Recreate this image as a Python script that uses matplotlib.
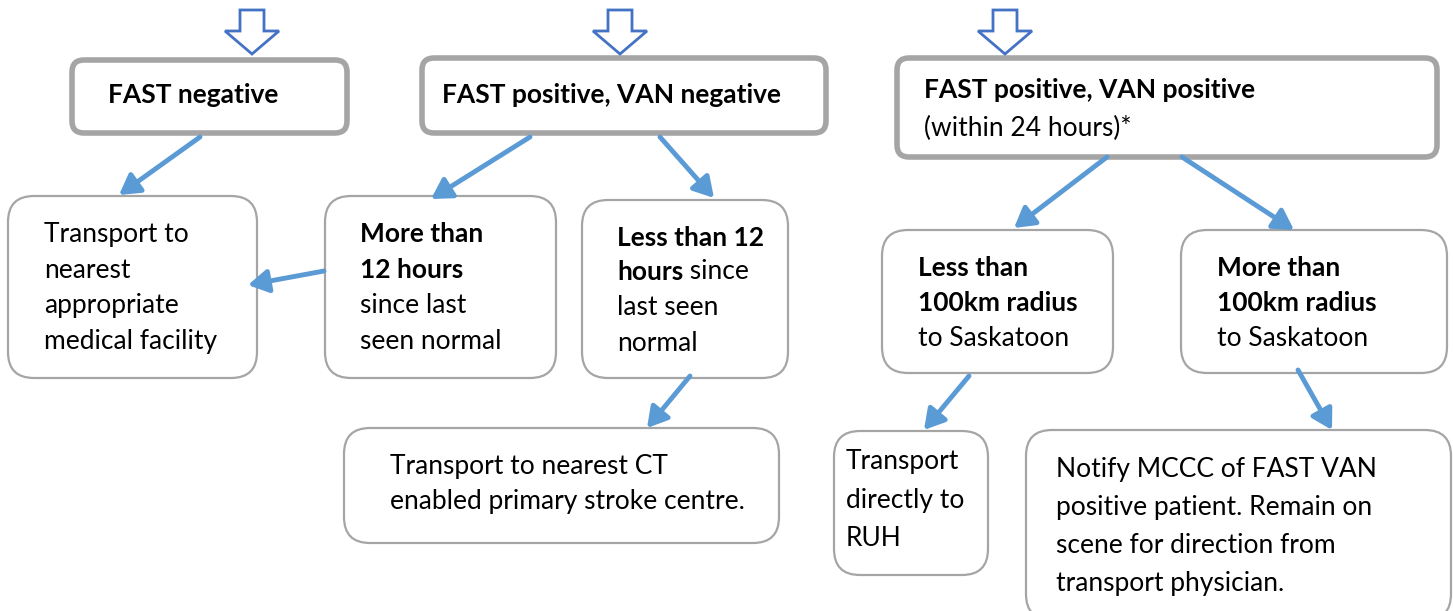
import matplotlib.pyplot as plt
from matplotlib.patches import FancyBboxPatch, Polygon

plt.rcParams['font.family'] = ['Lato', 'DejaVu Sans']

W, H = 1453, 611
BLUE = '#5B9BD5'
DARK_BLUE = '#4472C4'
GREY = '#A5A5A5'
FS = 19

# boxes: (x0, y0, x1, y1, thick)
boxes = [
    (72, 60, 347, 133, True),
    (422, 58, 826, 133, True),
    (897, 58, 1437, 157, True),
    (8, 196, 257, 378, False),
    (325, 196, 556, 378, False),
    (582, 200, 788, 378, False),
    (882, 230, 1113, 373, False),
    (1181, 230, 1447, 373, False),
    (344, 428, 779, 543, False),
    (834, 431, 988, 575, False),
    (1026, 430, 1451, 620, False),
]

# text pieces: (x, y_top_of_line, [(text, bold), ...])
text_lines = [
    (108, 83, [("FAST negative", True)]),
    (442, 83, [("FAST positive, VAN negative", True)]),
    (924, 78, [("FAST positive, VAN positive", True)]),
    (924, 116, [("(within 24 hours)*", False)]),
    (44, 222, [("Transport to", False)]),
    (44, 258, [("nearest", False)]),
    (44, 293, [("appropriate", False)]),
    (44, 329, [("medical facility", False)]),
    (360, 222, [("More than", True)]),
    (360, 258, [("12 hours", True)]),
    (360, 293, [("since last", False)]),
    (360, 329, [("seen normal", False)]),
    (617, 226, [("Less than 12", True)]),
    (617, 260, [("hours", True), (" since", False)]),
    (617, 295, [("last seen", False)]),
    (617, 331, [("normal", False)]),
    (918, 256, [("Less than", True)]),
    (918, 291, [("100km radius", True)]),
    (918, 326, [("to Saskatoon", False)]),
    (1217, 256, [("More than", True)]),
    (1217, 291, [("100km radius", True)]),
    (1217, 326, [("to Saskatoon", False)]),
    (390, 454, [("Transport to nearest CT", False)]),
    (390, 489, [("enabled primary stroke centre.", False)]),
    (846, 449, [("Transport", False)]),
    (846, 488, [("directly to", False)]),
    (846, 526, [("RUH", False)]),
    (1056, 457, [("Notify MCCC of FAST VAN", False)]),
    (1056, 495, [("positive patient. Remain on", False)]),
    (1056, 533, [("scene for direction from", False)]),
    (1056, 571, [("transport physician.", False)]),
]

# connector arrows: (x_start, y_start, x_end, y_end)
arrows = [
    (200, 137, 119, 195),
    (530, 137, 431, 199),
    (660, 137, 714, 198),
    (324, 271, 248, 285),
    (690, 376, 647, 428),
    (1107, 157, 1014, 228),
    (1182, 157, 1294, 230),
    (969, 376, 924, 430),
    (1298, 370, 1332, 430),
]

# hollow entry arrows at top: centre x
entry_x = [252, 620, 1005]

fig = plt.figure(figsize=(W / 100, H / 100), dpi=100)
ax = fig.add_axes([0, 0, 1, 1])
ax.set_xlim(0, W)
ax.set_ylim(H, 0)
ax.axis('off')

for x0, y0, x1, y1, thick in boxes:
    if thick:
        p = FancyBboxPatch((x0, y0), x1 - x0, y1 - y0,
                           boxstyle='round,pad=0,rounding_size=12',
                           fc='white', ec=GREY, lw=4)
    else:
        p = FancyBboxPatch((x0, y0), x1 - x0, y1 - y0,
                           boxstyle='round,pad=0,rounding_size=26',
                           fc='white', ec=GREY, lw=1.6)
    ax.add_patch(p)

for x, y, pieces in text_lines:
    t = None
    for s, bold in pieces:
        w = 'bold' if bold else 'normal'
        if t is None:
            t = ax.text(x, y, s, fontsize=FS, fontweight=w,
                        ha='left', va='top', color='black')
        else:
            t = ax.annotate(s, xy=(1, 0), xycoords=t, fontsize=FS,
                            fontweight=w, ha='left', va='bottom',
                            color='black')

for xs, ys, xe, ye in arrows:
    ax.annotate('', xy=(xe, ye), xytext=(xs, ys),
                arrowprops=dict(arrowstyle='-|>,head_length=0.6,head_width=0.35',
                                color=BLUE, lw=3.5, shrinkA=0, shrinkB=0,
                                mutation_scale=20))

for cx in entry_x:
    pts = [(cx - 12, 10), (cx + 12, 10), (cx + 12, 31), (cx + 27, 31),
           (cx, 54), (cx - 27, 31), (cx - 12, 31)]
    ax.add_patch(Polygon(pts, closed=True, fc='white', ec=DARK_BLUE, lw=2))

fig.savefig('out.png', dpi=100)
